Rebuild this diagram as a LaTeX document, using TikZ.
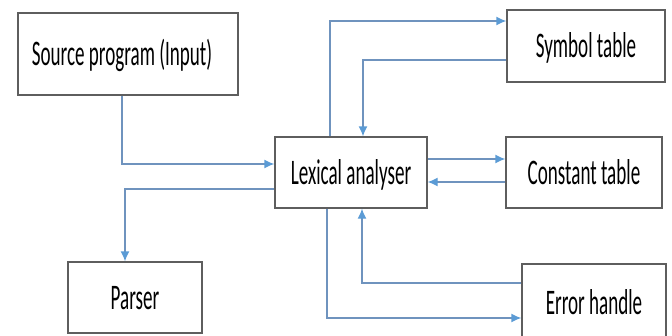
\documentclass[tikz,border=0pt]{standalone}
\usepackage{fontspec}
\setmainfont{Carlito}
\usetikzlibrary{arrows.meta}
\definecolor{boxline}{HTML}{5E5E5E}
\definecolor{flowline}{HTML}{6F93BE}
\definecolor{flowtip}{HTML}{5B9BD5}
\newcommand{\narrowtext}[1]{\scalebox{0.53}[1]{#1}}
\tikzset{
  block/.style={draw=boxline, line width=1.3pt, fill=white, rectangle,
    inner sep=0pt, text height=23pt, text depth=0pt,
    font=\fontsize{36}{40}\selectfont},
  link/.style={draw=flowline, line width=1.3pt,
    -{Latex[length=10pt,width=9pt,color=flowtip]}},
}
\begin{document}
\begin{tikzpicture}[x=1pt,y=-1pt]
\useasboundingbox (0,0) rectangle (672,335);
\clip (0,0) rectangle (672,335);

% boxes
\node[block, minimum width=220pt, minimum height=82pt] (src) at (128,54)
  {\hspace*{-12pt}\narrowtext{Source program (Input)}};
\node[block, minimum width=152pt, minimum height=71pt] (lex) at (351,172.5)
  {\narrowtext{Lexical analyser}};
\node[block, minimum width=158pt, minimum height=72pt] (sym) at (586,46)
  {\narrowtext{Symbol table}};
\node[block, minimum width=156pt, minimum height=71pt] (con) at (584,172.5)
  {\narrowtext{Constant table}};
\node[block, minimum width=144pt, minimum height=78pt] (err) at (594,303)
  {\narrowtext{Error handle}};
\node[block, minimum width=134pt, minimum height=71pt] (par) at (135,297.5)
  {\narrowtext{Parser}};

% routing points
\coordinate (xsrc) at (122,0);
\coordinate (ysrc) at (0,164);
\coordinate (xup) at (330,0);
\coordinate (ytop) at (0,21);
\coordinate (ysymret) at (0,60);
\coordinate (xsymret) at (363,0);
\coordinate (ycon1) at (0,159);
\coordinate (ycon2) at (0,182);
\coordinate (yerrret) at (0,283);
\coordinate (xerrret) at (362,0);
\coordinate (xdown) at (327,0);
\coordinate (yerr) at (0,318);
\coordinate (ypar) at (0,189);
\coordinate (xpar) at (125,0);

% connectors
\draw[link] (src.south -| xsrc) |- (lex.west |- ysrc);
\draw[link] (lex.north -| xup) |- (sym.west |- ytop);
\draw[link] (sym.west |- ysymret) -| (lex.north -| xsymret);
\draw[link] (lex.east |- ycon1) -- (con.west |- ycon1);
\draw[link] (con.west |- ycon2) -- (lex.east |- ycon2);
\draw[link] (err.west |- yerrret) -| (lex.south -| xerrret);
\draw[link] (lex.south -| xdown) |- (err.west |- yerr);
\draw[link] (lex.west |- ypar) -| (par.north -| xpar);
\end{tikzpicture}
\end{document}
